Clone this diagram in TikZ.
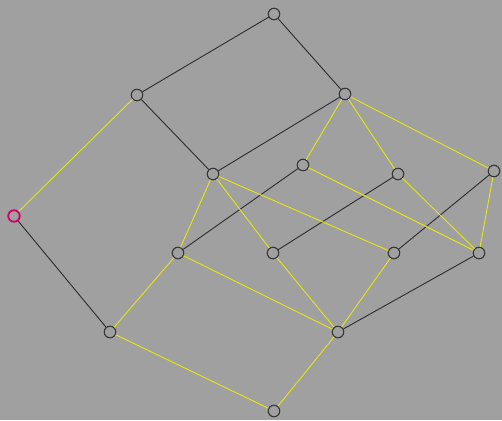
\documentclass[tikz,border=0pt]{standalone}
\usepackage{xcolor}
\definecolor{canvas}{HTML}{A0A0A0}
\definecolor{latyellow}{HTML}{E6E610}
\definecolor{latblack}{HTML}{2C2C2C}
\definecolor{ringgray}{HTML}{363636}
\definecolor{bottommag}{HTML}{CC0066}

\begin{document}
\begin{tikzpicture}[x=1pt,y=-1pt,
  elem/.style={circle,draw=ringgray,fill=canvas,line width=1.1pt,
    minimum size=11.5pt,inner sep=0pt},
  coverblack/.style={latblack,line width=0.9pt},
  coveryellow/.style={latyellow,line width=0.9pt}]

\fill[canvas] (0,0) rectangle (502,420);
\useasboundingbox (0,0) rectangle (502,420);

% lattice elements, pixel positions
\foreach \name/\x/\y in {a/274/14, b/137/95, c/345/94, d/213/174, e/303/165,
    f/398/174, g/494/171, i/178/253, j/273/253, k/394/253, l/479/253,
    m/110/332, n/338/332, o/274/411}{
  \node[elem] (\name) at (\x,\y) {};
}
\node[elem,draw=bottommag,line width=1.8pt] (h) at (14,216) {};

% black covers
\foreach \u/\v in {a/b, a/c, b/d, c/d, h/m, i/e, j/f, k/g, n/l}{
  \draw[coverblack] (\u) -- (\v);
}

% yellow covers
\foreach \u/\v in {h/b, m/i, m/o, i/d, i/n, d/j, d/k, c/e, c/f, c/g,
    e/l, f/l, g/l, j/n, k/n, n/o}{
  \draw[coveryellow] (\u) -- (\v);
}

\end{tikzpicture}
\end{document}
